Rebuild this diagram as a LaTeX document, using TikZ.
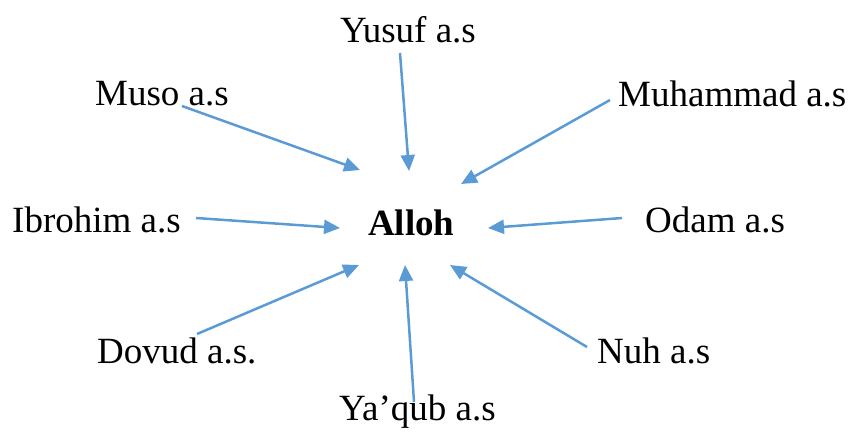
\documentclass[tikz,border=0pt]{standalone}
\usepackage{fontspec}
\setmainfont{Liberation Serif}
\usetikzlibrary{arrows.meta}
\definecolor{arrowblue}{HTML}{5B9BD5}
\begin{document}
\begin{tikzpicture}[x=1pt,y=-1pt,
  lbl/.style={anchor=base west,inner sep=0pt,font=\fontsize{37}{40}\selectfont},
  arr/.style={draw=arrowblue,line width=2.5pt,-{Triangle[length=16pt,width=14pt]}}]
\useasboundingbox (0,0) rectangle (851,432);
\node[lbl] (yusuf) at (340,42) {Yusuf a.s};
\node[lbl] (muso) at (95,105) {Muso a.s};
\node[lbl] (muhammad) at (618,106) {Muhammad a.s};
\node[lbl] (ibrohim) at (12,232) {Ibrohim a.s};
\node[lbl,font=\fontsize{37}{40}\selectfont\bfseries] (alloh) at (368,235) {Alloh};
\node[lbl] (odam) at (645,232) {Odam a.s};
\node[lbl] (dovud) at (97,363) {Dovud a.s.};
\node[lbl] (nuh) at (597,363) {Nuh a.s};
\node[lbl] (yaqub) at (339,420) {Ya’qub a.s};
\coordinate (ys) at (400,53);  \coordinate (ye) at (409,171);
\coordinate (ms) at (182,106); \coordinate (me) at (360,170);
\coordinate (hs) at (610,100); \coordinate (he) at (461,184);
\coordinate (is) at (196,218); \coordinate (ie) at (340,228);
\coordinate (os) at (622,218); \coordinate (oe) at (488,228);
\coordinate (ds) at (197,334); \coordinate (de) at (359,265);
\coordinate (ns) at (587,347); \coordinate (ne) at (450,265);
\coordinate (qs) at (414,402); \coordinate (qe) at (405,265);
\draw[arr] (ys) -- (ye);
\draw[arr] (ms) -- (me);
\draw[arr] (hs) -- (he);
\draw[arr] (is) -- (ie);
\draw[arr] (os) -- (oe);
\draw[arr] (ds) -- (de);
\draw[arr] (ns) -- (ne);
\draw[arr] (qs) -- (qe);
\end{tikzpicture}
\end{document}
